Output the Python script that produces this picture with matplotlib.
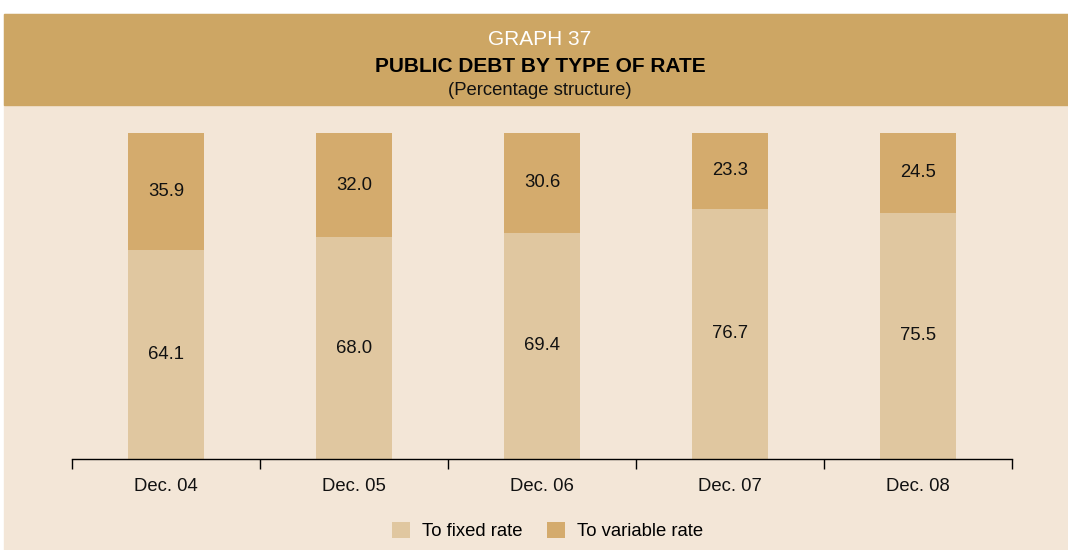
import matplotlib
matplotlib.use("Agg")
import matplotlib.pyplot as plt
from matplotlib.patches import Rectangle, Patch

plt.rcParams['font.family'] = ['Liberation Sans', 'DejaVu Sans']

categories = ["Dec. 04", "Dec. 05", "Dec. 06", "Dec. 07", "Dec. 08"]
fixed_rate = [64.1, 68.0, 69.4, 76.7, 75.5]
variable_rate = [35.9, 32.0, 30.6, 23.3, 24.5]
series_names = ["To fixed rate", "To variable rate"]

header_color = "#CDA664"
panel_color = "#F3E6D7"
fixed_color = "#E0C7A0"
variable_color = "#D4AB6D"
text_color = "#111111"

W, H = 1068, 550
fig = plt.figure(figsize=(W / 100, H / 100), dpi=100, facecolor="white")

# Panel and header band
fig.patches.append(Rectangle((4 / W, 0), 1 - 4 / W, (H - 14) / H,
                             transform=fig.transFigure, color=panel_color, zorder=-10))
fig.patches.append(Rectangle((4 / W, (H - 105) / H), 1 - 4 / W, (105 - 14) / H,
                             transform=fig.transFigure, color=header_color, zorder=-9))

fig.text(540 / W, 1 - 45 / H, "GRAPH 37", color="white", fontsize=15,
         ha="center", va="baseline")
fig.text(540 / W, 1 - 72 / H, "PUBLIC DEBT BY TYPE OF RATE", color="black",
         fontsize=15, fontweight="bold", ha="center", va="baseline")
fig.text(540 / W, 1 - 95 / H, "(Percentage structure)", color=text_color,
         fontsize=13.3, ha="center", va="baseline")

# Plot area
ax = fig.add_axes([72 / W, (H - 459) / H, 940 / W, 326 / H])
ax.set_facecolor("none")
ax.set_zorder(1)
x = list(range(len(categories)))
bw = 76 / 188
ax.bar(x, fixed_rate, width=bw, color=fixed_color, zorder=2)
ax.bar(x, variable_rate, width=bw, bottom=fixed_rate, color=variable_color, zorder=2)

for xi, f, v in zip(x, fixed_rate, variable_rate):
    ax.text(xi, f / 2, f"{f:.1f}", ha="center", va="center", fontsize=13.3, color=text_color, zorder=3)
    ax.text(xi, f + v / 2, f"{v:.1f}", ha="center", va="center", fontsize=13.3, color=text_color, zorder=3)

ax.set_xlim(-0.5, len(categories) - 0.5)
ax.set_ylim(0, 100)
for s in ["top", "left", "right"]:
    ax.spines[s].set_visible(False)
ax.spines["bottom"].set_color("black")
ax.spines["bottom"].set_linewidth(1.0)
ax.set_yticks([])
ax.set_xticks([i - 0.5 for i in range(len(categories) + 1)])
ax.set_xticklabels([])
ax.set_xticks(x, minor=True)
ax.set_xticklabels(categories, minor=True, fontsize=13.3, color=text_color)
ax.tick_params(axis="x", which="major", direction="out", length=7.2, width=1.0, color="black")
ax.tick_params(axis="x", which="minor", length=0, pad=14)

handles = [Patch(facecolor=fixed_color, edgecolor="none"),
           Patch(facecolor=variable_color, edgecolor="none")]
fig.legend(handles, series_names, loc="center", bbox_to_anchor=(547.5 / W, 1 - 531 / H),
           ncol=2, frameon=False, fontsize=13.3, handlelength=0.97, handleheight=0.97,
           handletextpad=0.65, columnspacing=1.35, borderpad=0)

fig.savefig("out.png", dpi=100, facecolor="white")
